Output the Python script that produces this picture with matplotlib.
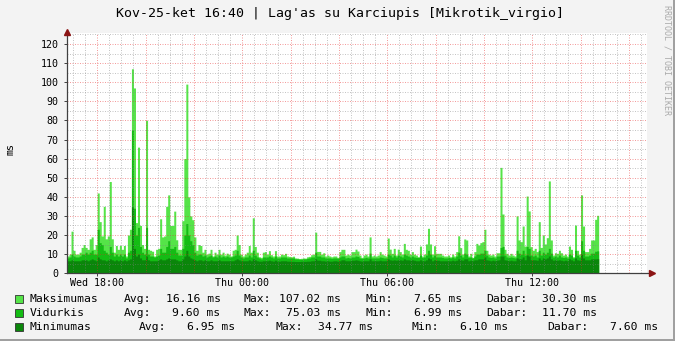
import matplotlib
matplotlib.use("Agg")
import matplotlib.pyplot as plt
from matplotlib.patches import Rectangle
import numpy as np

plt.rcParams['font.family'] = 'DejaVu Sans Mono'

W, H = 675, 341

# 5 minute samples starting Wed 16:45 (x axis in hours since Wed 00:00)
start_hour = 16.75
step_hour = 5 / 60
end_hour = 40.75

# latency in ms
max_ms = [9, 10, 22, 12, 10, 10, 11, 13.5, 15, 13.5, 12.5, 18, 19, 12.5, 15, 42, 27, 19.5, 35, 18,
          19.5, 48, 18, 11, 14.5, 12.5, 14.5, 12.5, 14.5, 9, 20, 23, 107.02, 97, 26.5, 66, 25, 15, 13, 80,
          12.5, 12, 11.5,
          9, 12.5, 13, 28.5, 19, 19.5, 35, 41, 25, 25, 32.5, 17.5, 12.5, 12.5, 27.5, 60, 99, 40, 30, 28,
          19, 12, 15, 14.5, 11, 12.5, 10, 10.5, 12.5, 9, 11, 10, 12.5, 10, 11, 9.5, 10.5, 10, 9, 12,
          12.5, 20,
          15, 10, 9, 10, 11, 14.5, 11, 29, 14, 11, 8.6, 8.3, 11, 11.3, 10, 11.8, 9.7, 9, 11.8, 9,
          9, 10, 9.7, 10.4, 9, 8.8, 8.6, 8.9, 8, 7.9, 7.7, 7.8, 8, 7.9, 8.6, 8.8, 9.7, 10, 21.5, 11.4,
          11.4, 10, 10.7, 9,
          9.5, 9, 8.6, 9, 9, 8.3, 11.3, 12.5, 12.5, 9.5, 10, 9.5, 11.3, 11.3, 12.6, 11.6, 9.5, 8.3, 9.5, 10,
          9, 19, 9, 9.5, 9, 9.5, 11.3, 10, 9.5, 9, 18.4, 12.6, 10.4, 13, 9.5, 12.6, 11.3, 10, 15.6, 12.5,
          12, 10, 11.3, 10, 9.5,
          8.6, 14.2, 9, 10, 15.3, 23.5, 15.3, 10, 14.4, 10.4, 10.4, 10.4, 9.5, 9, 9, 9.5, 8.6, 10, 9, 11.3,
          19.6, 13.4, 10, 17.9, 17.4, 9, 10.4, 8.3, 11.3, 15.6, 14.8, 16, 16.5, 23, 12, 10, 9.5, 10, 9, 10.7,
          10.7, 55.4,
          31, 12.5, 10.4, 9.5, 10.4, 9.5, 9, 30, 17.4, 16.5, 24.7, 14.2, 40.4, 32.6, 13.9, 12, 13, 11.3, 27, 13.5,
          20, 15.3, 18.6, 48.3, 17.4, 9.5, 10.7, 10.4, 12, 10.7, 9.5, 10, 9, 14.2, 12.5, 8.6, 25.2, 12, 10, 41,
          24.7, 11.3, 11.3, 13, 17.4, 17.4, 28.2, 30.3]

avg_ms = [8, 8.5, 10, 9, 8.5, 8.5, 9, 10, 10, 11, 10, 11, 12, 10, 10, 23, 16, 15, 12, 11,
          10, 14, 11, 9, 10, 9, 10, 9, 10, 8, 11, 12, 75.03, 34, 20, 24, 14, 11, 10, 24,
          10, 9, 9,
          8.5, 9, 9.5, 13, 11, 11, 14, 17, 13, 13, 14, 11, 9.5, 9.5, 13, 20, 26, 20, 17, 15,
          11, 9.5, 10, 10, 9, 9.5, 8.5, 9, 9.5, 8.5, 9, 8.5, 9.5, 8.5, 9, 8.5, 9, 8.5, 8.5, 9,
          9.5, 12,
          9.5, 8.5, 8, 8.5, 8.5, 9.5, 8.5, 12, 9.5, 8.5, 8, 7.5, 8.5, 8.5, 8.5, 9, 8.5, 8, 9, 8,
          8, 8.5, 8.5, 8.5, 8, 8, 8, 8, 7.5, 7.5, 7.3, 7.3, 7.5, 7.5, 7.8, 8, 8.5, 8.5, 11, 9,
          9, 8.5, 8.5, 8,
          8, 8, 7.8, 8, 8, 7.8, 8.5, 9, 9, 8, 8.3, 8, 8.5, 8.5, 9, 8.8, 8, 7.8, 8, 8.3,
          8, 10.5, 8, 8, 8, 8, 8.5, 8.3, 8, 8, 10, 9.5, 8.5, 9.5, 8.5, 9.5, 9, 8.5, 10, 9.5,
          9, 8.5, 9, 8.5, 8.3,
          8.3, 9.5, 8.3, 8.5, 9.5, 12, 10, 8.5, 9.5, 8.5, 8.5, 8.5, 8.3, 8, 8, 8.3, 8, 8.5, 8, 9,
          11, 9.5, 8.5, 10.5, 10, 8.3, 8.5, 8, 9, 10, 10, 10.5, 10.5, 12, 9.5, 8.5, 8.3, 8.5, 8, 9,
          9, 13.5,
          14, 9.5, 8.5, 8.3, 8.5, 8.3, 8, 12, 10.5, 10, 12, 9.5, 14, 13, 9.5, 9, 9.5, 8.5, 12, 9.5,
          11, 10, 11, 13, 10.5, 8.5, 9, 8.5, 9.5, 8.5, 8.3, 8.5, 8, 10, 9.5, 8, 12, 9.5, 8.5, 17,
          12, 9, 9, 9.5, 10.5, 10.5, 11.5, 11.7]

min_ms = [6.5, 6.5, 7, 6.5, 6.5, 6.5, 6.5, 7, 7, 7, 6.5, 7, 7.5, 7, 6.5, 8.5, 7.5, 7, 7, 6.5,
          7, 7.5, 7, 6.5, 7, 6.5, 7, 6.5, 7, 6.5, 7, 7.5, 34.77, 13, 9, 10, 8, 7, 7, 9,
          7, 6.5, 6.5,
          6.5, 6.5, 7, 7.5, 7, 7, 7.5, 8, 7.5, 7.5, 7.5, 7, 6.5, 6.5, 7.5, 9, 12, 9, 8, 7.5,
          7, 6.5, 7, 7, 6.5, 7, 6.5, 6.5, 7, 6.5, 6.5, 6.5, 7, 6.5, 6.5, 6.5, 6.5, 6.5, 6.5, 6.5,
          7, 7.5,
          7, 6.5, 6.5, 6.5, 6.5, 7, 6.5, 7.5, 7, 6.5, 6.3, 6.3, 6.5, 6.5, 6.5, 6.8, 6.5, 6.3, 6.8, 6.3,
          6.3, 6.5, 6.5, 6.5, 6.3, 6.3, 6.2, 6.2, 6.1, 6.1, 6.1, 6.2, 6.2, 6.2, 6.3, 6.3, 6.5, 6.5, 7.5, 6.8,
          6.8, 6.5, 6.5, 6.3,
          6.5, 6.3, 6.3, 6.5, 6.5, 6.3, 6.5, 7, 7, 6.5, 6.5, 6.5, 6.8, 6.8, 7, 6.8, 6.5, 6.3, 6.5, 6.5,
          6.5, 7.5, 6.5, 6.5, 6.5, 6.5, 6.8, 6.5, 6.5, 6.5, 7.5, 7, 6.8, 7, 6.8, 7, 7, 6.8, 7.5, 7,
          7, 6.8, 7, 6.8, 6.5,
          6.5, 7, 6.5, 6.5, 7, 8, 7.5, 6.5, 7, 6.8, 6.8, 6.5, 6.5, 6.5, 6.5, 6.5, 6.5, 6.8, 6.5, 6.8,
          7.5, 7, 6.8, 7.5, 7.5, 6.5, 6.8, 6.5, 7, 7, 7.5, 7.5, 7.5, 8.5, 7, 6.8, 6.5, 6.8, 6.5, 6.8,
          7, 9,
          9, 7, 6.8, 6.5, 6.8, 6.5, 6.5, 8, 7.5, 7.5, 8.5, 7, 9.5, 9, 7, 7, 7, 6.8, 8, 7,
          8, 7.5, 8, 9, 7.5, 6.8, 7, 6.8, 7, 6.8, 6.5, 6.8, 6.5, 7.5, 7, 6.5, 8, 7, 6.8, 10,
          8, 7, 7, 7, 7.5, 7.5, 7.5, 7.6]

tick_hours = [18, 24, 30, 36]
tick_labels = ['Wed 18:00', 'Thu 00:00', 'Thu 06:00', 'Thu 12:00']

series_names = ['Maksimumas', 'Vidurkis', 'Minimumas']
series_colors = ['#55E448', '#14BC14', '#0A860A']
stat_avg = ['16.16', '9.60', '6.95']
stat_max = ['107.02', '75.03', '34.77']
stat_min = ['7.65', '6.99', '6.10']
stat_last = ['30.30', '11.70', '7.60']

title = "Kov-25-ket 16:40 | Lag'as su Karciupis [Mikrotik_virgio]"


def fx(px):
    return px / W


def fy(py):
    return 1 - py / H


fig = plt.figure(figsize=(W / 100, H / 100), dpi=100, facecolor='#F3F3F3')
left, right, top, bottom = 67, 647, 33, 273.2
ax = fig.add_axes([fx(left), fy(bottom), (right - left) / W, (bottom - top) / H])
ax.set_facecolor('white')

n = len(max_ms)
edges = start_hour + step_hour * np.arange(n + 1)
for vals, col in zip([max_ms, avg_ms, min_ms], series_colors):
    y = np.append(vals, vals[-1])
    ax.fill_between(edges, 0, y, step='post', color=col, lw=0, antialiased=False, zorder=2)

ax.set_xlim(start_hour, end_hour)
ax.set_ylim(0, (bottom - top) / 1.91)

# grid on top of the data, rrdtool style dotted lines
major_col = (0.9, 0.15, 0.15, 0.45)
minor_col = (0.5, 0.5, 0.5, 0.45)
for v in np.arange(5, 126, 5):
    ax.axhline(v, color=major_col if v % 10 == 0 else minor_col, lw=0.72, ls=(0, (1, 1.5)), zorder=3)
for hr in np.arange(17, end_hour, 0.5):
    ax.axvline(hr, color=major_col if hr % 2 == 0 else minor_col, lw=0.72, ls=(0, (1, 1.5)), zorder=3)

for s in ax.spines.values():
    s.set_visible(False)
ax.plot([0, 1.009], [0, 0], transform=ax.transAxes, color='#404040', lw=0.9, clip_on=False, zorder=5)
ax.plot([0, 0], [0, 1.006], transform=ax.transAxes, color='#404040', lw=0.9, clip_on=False, zorder=5)
ax.plot(1.009, 0, marker='>', ms=4, color='#8B1414', transform=ax.transAxes, clip_on=False, zorder=6)
ax.plot(0, 1.006, marker='^', ms=4, color='#8B1414', transform=ax.transAxes, clip_on=False, zorder=6)

ax.set_yticks(range(0, 121, 10))
ax.set_xticks(tick_hours)
ax.set_xticklabels(tick_labels)
ax.tick_params(axis='y', length=2, width=0.7, color='#404040', pad=4, labelsize=7.2)
ax.tick_params(axis='x', length=2, width=0.7, color='#404040', pad=1.2, labelsize=7.2)

fig.text(fx(340), fy(14), title, ha='center', va='center', fontsize=9.5)
fig.text(fx(11), fy(149), 'ms', rotation=90, ha='center', va='center', fontsize=7.2)
fig.text(fx(667), fy(5), 'RRDTOOL / TOBI OETIKER', rotation=270, ha='center', va='top',
         fontsize=6, color='#AAAAAA')

# legend block
row_y = [299, 313, 327]
cols_a = [(123.5, 220.5), (244, 341), (365, 462), (486.5, 597.5)]
cols_b = [(138.5, 235.5), (275.5, 372.5), (411, 508), (547.5, 658.5)]
labels = ['Avg:', 'Max:', 'Min:', 'Dabar:']
for i, name in enumerate(series_names):
    yy = row_y[i]
    fig.add_artist(Rectangle((fx(15), fy(yy + 4)), 8 / W, 8 / H, transform=fig.transFigure,
                             facecolor=series_colors[i], edgecolor='#333333', lw=0.6))
    fig.text(fx(30), fy(yy), name, ha='left', va='center', fontsize=8.2)
    cols = cols_a if i < 2 else cols_b
    vals = [stat_avg[i], stat_max[i], stat_min[i], stat_last[i]]
    for (lx, rx), lab, v in zip(cols, labels, vals):
        fig.text(fx(lx), fy(yy), lab, ha='left', va='center', fontsize=8.2)
        fig.text(fx(rx), fy(yy), v + ' ms', ha='right', va='center', fontsize=8.2)

# 3d frame
fig.add_artist(Rectangle((0, 0), 1, 2 / H, transform=fig.transFigure, color='#A0A0A0', lw=0))
fig.add_artist(Rectangle((1 - 2 / W, 0), 2 / W, 1, transform=fig.transFigure, color='#A0A0A0', lw=0))

fig.savefig('out.png', dpi=100, facecolor=fig.get_facecolor())
